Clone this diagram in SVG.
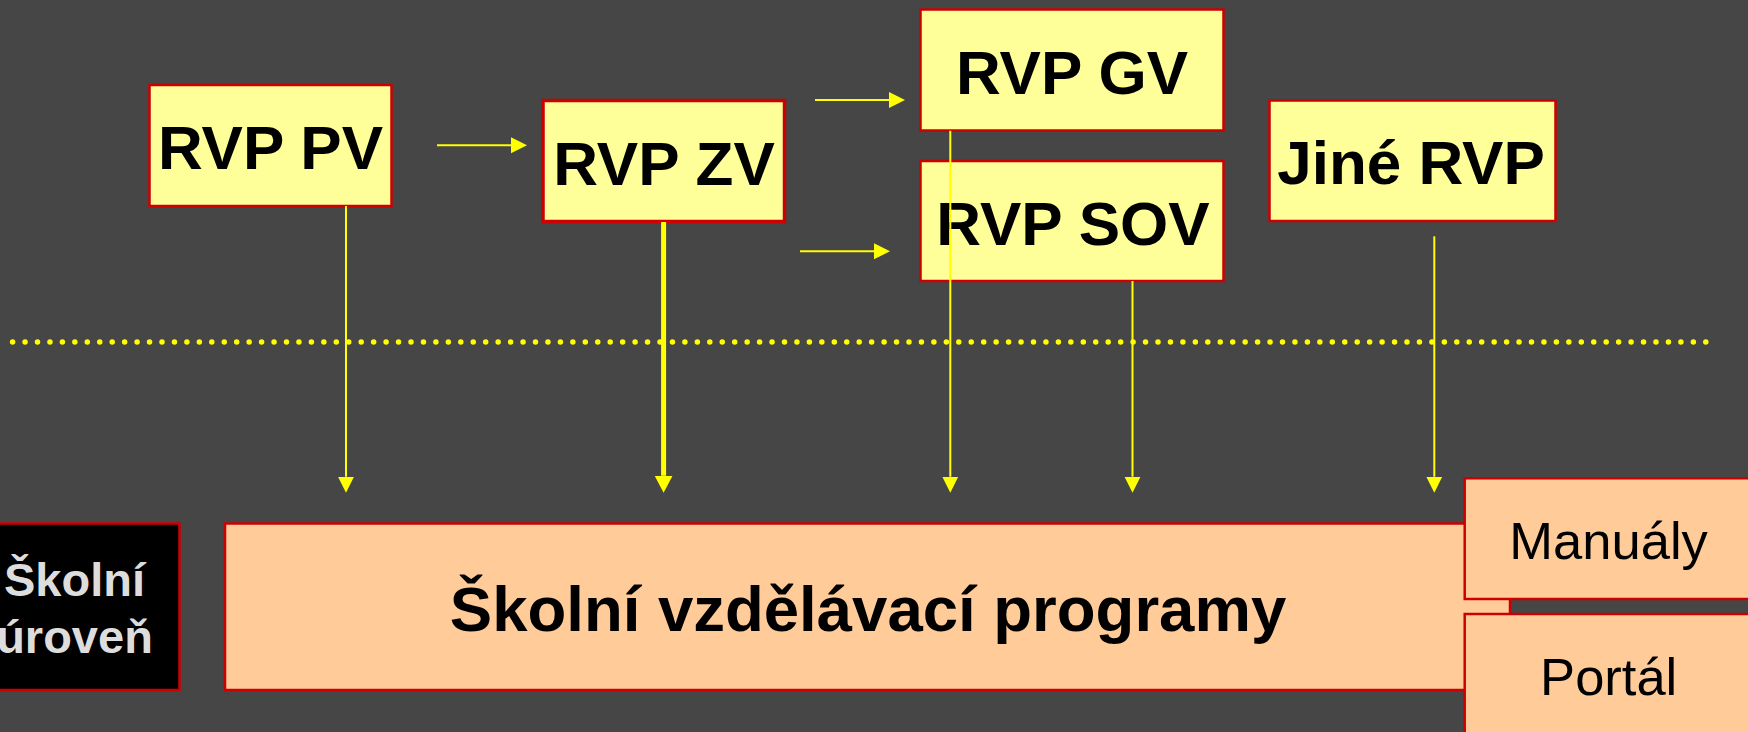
<svg xmlns="http://www.w3.org/2000/svg" width="1748" height="732" viewBox="0 0 1748 732">
<defs>
<style>
.bg{fill:#464646}
.rvp{fill:#FFFF99;stroke:#CC0000;stroke-width:2.5}
.svp{fill:#FFCC99;stroke:#CC0000;stroke-width:2.5}
.blk{fill:#000000;stroke:#CC0000;stroke-width:2.5}
.t1{font-family:"Liberation Sans",Arial,sans-serif;font-weight:bold;font-size:62px;fill:#000;text-anchor:middle}
.t2{font-family:"Liberation Sans",Arial,sans-serif;font-weight:bold;font-size:47px;fill:#DDDDDD;text-anchor:middle}
.t3{font-family:"Liberation Sans",Arial,sans-serif;font-size:52.5px;fill:#000;text-anchor:middle}
.ln{stroke:#FFFF00;stroke-width:2;fill:none}
.lnb{stroke:#FFFF00;stroke-width:5;fill:none}
.dot{stroke:#FFFF00;stroke-width:5.5;stroke-linecap:round;stroke-dasharray:0 12.45;fill:none}
</style>
<marker id="ah" markerUnits="userSpaceOnUse" markerWidth="20" markerHeight="20" viewBox="0 -10 20 20" refX="0" refY="0" orient="auto">
<path d="M0,-8 L16,0 L0,8 z" fill="#FFFF00"/>
</marker>
<marker id="ahb" markerUnits="userSpaceOnUse" markerWidth="22" markerHeight="22" viewBox="0 -11 22 22" refX="0" refY="0" orient="auto">
<path d="M0,-9 L17,0 L0,9 z" fill="#FFFF00"/>
</marker>
</defs>
<rect class="bg" x="0" y="0" width="1748" height="732"/>
<line class="dot" x1="12.6" y1="342" x2="1707" y2="342"/>
<g id="rvp-pv"><rect class="rvp" x="149.5" y="85" width="242" height="121"/><text class="t1" x="270.5" y="169.3">RVP PV</text></g>
<g id="rvp-zv"><rect class="rvp" x="543" y="100.5" width="241.5" height="121" style="stroke-width:3.5"/><text class="t1" x="664" y="185">RVP ZV</text></g>
<g id="rvp-gv"><rect class="rvp" x="920.5" y="9.5" width="303" height="121"/><text class="t1" x="1072" y="94.3">RVP GV</text></g>
<g id="rvp-sov"><rect class="rvp" x="920.5" y="161" width="303" height="120"/><text class="t1" x="1073" y="245">RVP SOV</text></g>
<g id="jine-rvp"><rect class="rvp" x="1269.5" y="100.5" width="286" height="120.5"/><text class="t1" x="1411" y="184.3">Jiné RVP</text></g>
<g id="skolni-uroven"><rect class="blk" x="-31" y="523.5" width="210.5" height="166.5"/><text class="t2" x="74.5" y="595.7">Školní</text><text class="t2" x="74.5" y="653">úroveň</text></g>
<g id="svp"><rect class="svp" x="225" y="523.5" width="1285" height="166.5"/><text class="t1" x="868" y="631" style="font-size:63.5px">Školní vzdělávací programy</text></g>
<g id="manualy"><rect class="svp" x="1464.7" y="478.3" width="290" height="120.7"/><text class="t3" x="1608.6" y="559">Manuály</text></g>
<g id="portal"><rect class="svp" x="1464.7" y="614" width="290" height="130"/><text class="t3" x="1608.7" y="695">Portál</text></g>
<g id="connectors">
<line class="ln" x1="437" y1="145.3" x2="511" y2="145.3" marker-end="url(#ah)"/>
<line class="ln" x1="815" y1="100" x2="889" y2="100" marker-end="url(#ah)"/>
<line class="ln" x1="800" y1="251.3" x2="874" y2="251.3" marker-end="url(#ah)"/>
<line class="ln" x1="346" y1="206" x2="346" y2="476.7" marker-end="url(#ah)"/>
<line class="lnb" x1="663.6" y1="222" x2="663.6" y2="475.7" marker-end="url(#ahb)"/>
<line class="ln" x1="950.3" y1="130.7" x2="950.3" y2="476.7" marker-end="url(#ah)"/>
<line class="ln" x1="1132.5" y1="281" x2="1132.5" y2="476.7" marker-end="url(#ah)"/>
<line class="ln" x1="1434.3" y1="236.3" x2="1434.3" y2="476.7" marker-end="url(#ah)"/>
</g>
</svg>
